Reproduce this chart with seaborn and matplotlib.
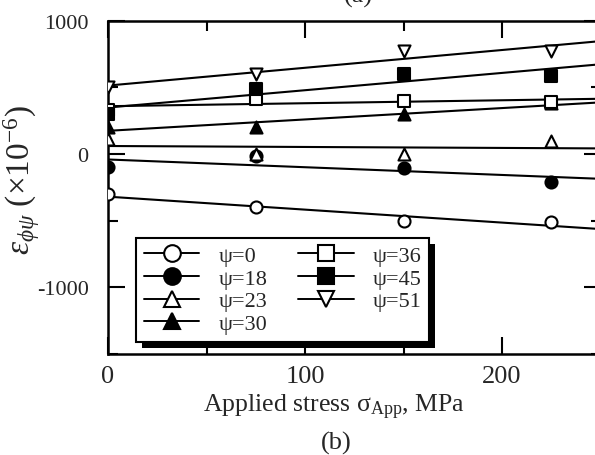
import numpy as np
import pandas as pd
import matplotlib
matplotlib.use("Agg")
import matplotlib.pyplot as plt
from matplotlib.lines import Line2D
from matplotlib.patches import Rectangle
from matplotlib.ticker import MultipleLocator
import seaborn as sns

# ---- data ----
stress = [0, 75, 150, 225]
psi_labels = ["ψ=0", "ψ=18", "ψ=23", "ψ=30", "ψ=36", "ψ=45", "ψ=51"]
psi_0 = [-301, -401, -506, -509]
psi_18 = [-95, -15, -105, -210]
psi_23 = [113, 0, 0, 95]
psi_30 = [200, 200, 300, 380]
psi_36 = [330, 414, 401, 390]
psi_45 = [301, 489, 601, 588]
psi_51 = [501, 601, 776, 776]
series = [psi_0, psi_18, psi_23, psi_30, psi_36, psi_45, psi_51]
markers = ["o", "o", "^", "^", "s", "s", "v"]
faces = ["white", "black", "white", "black", "white", "black", "white"]

xticks = [0, 100, 200]
yticks = [-1000, 0, 1000]

sns.set_style("ticks")
plt.rcParams["font.family"] = ["Liberation Serif", "DejaVu Serif"]
plt.rcParams["mathtext.fontset"] = "custom"
plt.rcParams["mathtext.rm"] = "Liberation Serif"
plt.rcParams["mathtext.it"] = "Liberation Serif:italic"
plt.rcParams["mathtext.bf"] = "Liberation Serif:bold"
plt.rcParams["axes.unicode_minus"] = False

fig = plt.figure(figsize=(5.95, 4.56), dpi=100)
ax = fig.add_axes([108 / 595, (456 - 355) / 456, (600.5 - 108) / 595, (355 - 21.7) / 456])
ax.set_xlim(0, 250)
ax.set_ylim(-1500, 1000)

for vals, m, fc, lab in zip(series, markers, faces, psi_labels):
    df = pd.DataFrame({"stress": stress, "strain": vals})
    sns.regplot(data=df, x="stress", y="strain", ax=ax, ci=None, truncate=False,
                marker=m, color="black",
                scatter_kws={"s": 75, "facecolors": fc, "edgecolors": "black",
                             "linewidths": 1.5, "alpha": 1, "zorder": 3},
                line_kws={"lw": 1.5, "zorder": 2})

ax.set_xlim(0, 250)
ax.set_ylim(-1500, 1000)

for s in ax.spines.values():
    s.set_linewidth(1.8)
    s.set_color("black")

ax.set_xticks(xticks)
ax.set_yticks(yticks)
ax.xaxis.set_minor_locator(MultipleLocator(50))
ax.yaxis.set_minor_locator(MultipleLocator(500))
ax.tick_params(which="both", direction="in", top=True, right=True, width=1.5, color="black")
ax.tick_params(which="major", length=12)
ax.tick_params(which="minor", length=7)
ax.tick_params(axis="x", which="major", labelsize=19, pad=8)
ax.tick_params(axis="y", which="major", labelsize=16, pad=14)

ax.set_xlabel("Applied stress σ$_{\\mathrm{App}}$, MPa", fontsize=18.5)
ax.xaxis.set_label_coords((334 - 108) / 492, (355 - 393) / 333.3)
ax.set_ylabel(r"$\varepsilon_{\phi\psi}$ (×10$^{\mathrm{-6}}$)", fontsize=24)
ax.yaxis.set_label_coords((42 - 108) / 492, (355 - 180) / 333.3)

fig.text(336 / 595, 1 - 443 / 456, "(b)", fontsize=19, ha="center", va="center")
fig.text(358 / 595, 1 - 8 / 456, "(a)", fontsize=19, ha="center", va="bottom")

handles = [Line2D([], [], color="black", lw=1.4, marker=m, markersize=12,
                  markerfacecolor=fc, markeredgecolor="black", markeredgewidth=1.5)
           for m, fc in zip(markers, faces)]
leg = ax.legend(handles, psi_labels, ncol=2, loc="lower left",
                bbox_to_anchor=((136 - 108) / 492, (355 - 343) / 333.3),
                borderaxespad=0, fontsize=16, frameon=True, fancybox=False,
                handlelength=2.5, handletextpad=0.85, columnspacing=1.4,
                labelspacing=0.1, borderpad=0.35)
leg.get_frame().set_edgecolor("black")
leg.get_frame().set_linewidth(1.5)
leg.get_frame().set_facecolor("white")
leg.get_frame().set_alpha(1)
leg.set_zorder(6)

fig.canvas.draw()
bb = leg.get_window_extent().transformed(ax.transAxes.inverted())
dx, dy = 6 / 492, 6 / 333.3
ax.add_patch(Rectangle((bb.x0 + dx, bb.y0 - dy), bb.width, bb.height,
                       transform=ax.transAxes, facecolor="black", edgecolor="none",
                       zorder=5.5, clip_on=False))

fig.savefig("out.png", dpi=100)
